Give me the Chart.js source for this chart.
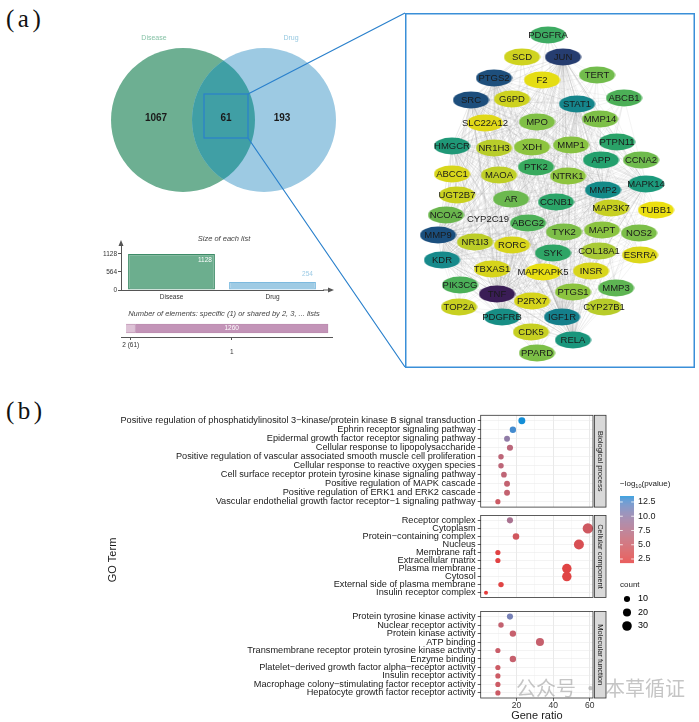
<!DOCTYPE html>
<html><head><meta charset="utf-8">
<script src="https://cdn.jsdelivr.net/npm/chart.js@4.4.1/dist/chart.umd.min.js"></script>
<style>
html,body{margin:0;padding:0;background:#fff;}
body{width:699px;height:722px;position:relative;overflow:hidden;font-family:"Liberation Sans",Arial,sans-serif;}
canvas{position:absolute;}
.lbl{position:absolute;font-family:"Liberation Serif","Times New Roman",serif;font-size:25px;line-height:25px;color:#111;letter-spacing:3.5px;}
.wm{position:absolute;font-family:"Noto Sans CJK SC",sans-serif;font-size:20px;line-height:22px;color:rgba(150,150,150,0.55);white-space:nowrap;}
</style></head><body>
<div class="lbl" style="left:6px;top:6px">(a)</div>
<div class="lbl" style="left:6px;top:398px">(b)</div>
<canvas id="venn" width="310" height="372" style="left:100px;top:0px"></canvas>
<canvas id="sizes" width="240" height="74" style="left:100px;top:228px"></canvas>
<canvas id="elems" width="240" height="50" style="left:100px;top:305px"></canvas>
<canvas id="net" width="290" height="355" style="left:405px;top:13px"></canvas>
<canvas id="go1" width="599" height="245" style="left:100px;top:400px"></canvas>
<canvas id="go2" width="510" height="97" style="left:100px;top:508px"></canvas>
<canvas id="go3" width="510" height="118" style="left:100px;top:604px"></canvas>
<div class="wm" style="left:516px;top:677px">公众号 · 本草循证</div>
<script>
// ---------------- DATA ----------------
const vennSets = ['Disease', 'Drug'];
const vennUnique = [1067, 193];
const vennShared = 61;

const listNames = ['Disease', 'Drug'];
const listSizes = [1128, 254];
const listTicks = [0, 564, 1128];

const elemNames = ['2 (61)', '1'];
const elemCounts = [61, 1260];

const geneNames = ['PDGFRA','SCD','JUN','TERT','PTGS2','F2','SRC','G6PD','STAT1','ABCB1','SLC22A12','MPO','MMP14','HMGCR','NR1H3','XDH','MMP1','PTPN11','APP','CCNA2','PTK2','ABCC1','MAOA','NTRK1','MMP2','MAPK14','UGT2B7','AR','CCNB1','MAP3K7','TUBB1','NCOA2','CYP2C19','ABCG2','TYK2','MAPT','NOS2','MMP9','NR1I3','RORC','SYK','COL18A1','ESRRA','KDR','TBXAS1','MAPKAPK5','INSR','PIK3CG','TNF','MMP3','PTGS1','P2RX7','TOP2A','CYP27B1','PDGFRB','IGF1R','CDK5','RELA','PPARD'];
// network layout (layout coordinates)
const geneLayoutX = [143,117,158,192,89,137,66,107,172,219,80,132,195,47,89,127,166,212,196,236,131,47,94,163,198,241,52,106,151,206,251,41,83,123,159,197,234,33,70,107,148,194,235,37,87,138,186,55,92,211,168,127,54,199,97,157,126,168,132];
const geneLayoutY = [22,44,44,62,65,67,87,86,91,85,110,109,106,133,135,134,132,129,147,147,154,161,162,163,177,171,182,186,189,195,197,202,206,210,219,217,220,222,229,232,240,238,242,247,256,259,258,272,281,275,279,288,294,294,304,304,319,327,340];
const hubGenes = ['TNF','JUN','SRC','PTGS2','MMP9','STAT1','MMP2','KDR','IGF1R','PDGFRB','RELA','MAPK14','HMGCR'];

const bpTerms = ['Positive regulation of phosphatidylinositol 3\u2212kinase/protein kinase B signal transduction','Ephrin receptor signaling pathway','Epidermal growth factor receptor signaling pathway','Cellular response to lipopolysaccharide','Positive regulation of vascular associated smooth muscle cell proliferation','Cellular response to reactive oxygen species','Cell surface receptor protein tyrosine kinase signaling pathway','Positive regulation of MAPK cascade','Positive regulation of ERK1 and ERK2 cascade','Vascular endothelial growth factor receptor\u22121 signaling pathway'];
const bpRatio = [22.9, 18.0, 14.8, 16.4, 11.5, 11.5, 13.1, 14.8, 14.8, 9.8];
const bpCount = [14, 11, 9, 10, 7, 7, 8, 9, 9, 6];
const bpLogP  = [13.5, 12.9, 10.0, 6.7, 6.5, 6.5, 6.3, 5.9, 5.9, 5.0];

const ccTerms = ['Receptor complex','Cytoplasm','Protein\u2212containing complex','Nucleus','Membrane raft','Extracellular matrix','Plasma membrane','Cytosol','External side of plasma membrane','Insulin receptor complex'];
const ccRatio = [16.4, 59.0, 19.7, 54.1, 9.8, 9.8, 47.5, 47.5, 11.5, 3.3];
const ccCount = [10, 36, 12, 33, 6, 6, 29, 29, 7, 2];
const ccLogP  = [8.3, 4.7, 4.5, 3.6, 2.4, 2.4, 2.5, 2.5, 2.5, 1.8];

const mfTerms = ['Protein tyrosine kinase activity','Nuclear receptor activity','Protein kinase activity','ATP binding','Transmembrane receptor protein tyrosine kinase activity','Enzyme binding','Platelet\u2212derived growth factor alpha\u2212receptor activity','Insulin receptor activity','Macrophage colony\u2212stimulating factor receptor activity','Hepatocyte growth factor receptor activity'];
const mfRatio = [16.4, 11.5, 18.0, 32.8, 9.8, 18.0, 9.8, 9.8, 9.8, 9.8];
const mfCount = [10, 7, 11, 20, 6, 11, 6, 6, 6, 6];
const mfLogP  = [11.2, 5.9, 5.6, 5.6, 5.3, 5.6, 5.0, 5.0, 5.0, 5.0];

const logPTicks = [12.5, 10.0, 7.5, 5.0, 2.5];
const countTicks = [10, 20, 30];

// ---------------- STYLES ----------------
const F = '"Liberation Sans", Arial, sans-serif';
const geneColors = ['#3dab62','#cfd320','#263d70','#72bc4c','#1e4f7c','#e5dd14','#1d4e7c','#cdd21f','#15858b','#4caf57','#e0d818','#80c046','#7dbf47','#1f9877','#b8cd2a','#8dc43f','#88c242','#2aa268','#23a06d','#6fbb4d','#38aa5e','#d8d61b','#bfcf27','#8ec43f','#138a88','#1c9a7c','#cad120','#6cb94f','#2ba468','#c7d022','#ebdf10','#6ab64d','rgba(0,0,0,0)','#4eb158','#7dbe48','#8ac340','#7bbe48','#1a4f7e','#bccd28','#d8d51b','#2ea566','#a9ca36','#dcd71a','#178a8b','#d6d41b','#e8df12','#d8d51b','#4bb058','#3a1d56','#5eb553','#8cc43f','#d6d41b','#c8d021','#b8cc2a','#178e85','#147f8b','#c6cf22','#1a967c','#7cbf47'];

Chart.defaults.font.family = F;
Chart.defaults.layout.autoPadding = false;

// Lab gradient (like ggplot scale_colour_gradient)
function s2l(c){c/=255;return c<=0.04045?c/12.92:Math.pow((c+0.055)/1.055,2.4);}
function l2s(c){c=c<=0.0031308?12.92*c:1.055*Math.pow(c,1/2.4)-0.055;return Math.round(Math.max(0,Math.min(1,c))*255);}
function rgb2lab(c){const r=s2l(c[0]),g=s2l(c[1]),b=s2l(c[2]);
  const X=(0.4124*r+0.3576*g+0.1805*b)/0.95047,Y=0.2126*r+0.7152*g+0.0722*b,Z=(0.0193*r+0.1192*g+0.9505*b)/1.08883;
  const f=t=>t>0.008856?Math.cbrt(t):(7.787*t+16/116);
  return [116*f(Y)-16,500*(f(X)-f(Y)),200*(f(Y)-f(Z))];}
function lab2rgb(c){const fy=(c[0]+16)/116,fx=fy+c[1]/500,fz=fy-c[2]/200;
  const fi=t=>t>0.206893?t*t*t:(t-16/116)/7.787;
  const X=fi(fx)*0.95047,Y=fi(fy),Z=fi(fz)*1.08883;
  return [l2s(3.2406*X-1.5372*Y-0.4986*Z),l2s(-0.9689*X+1.8758*Y+0.0415*Z),l2s(0.0557*X-0.2040*Y+1.0570*Z)];}
const LO=1.8, HI=13.55;
const labLo=rgb2lab([229,59,59]), labHi=rgb2lab([10,142,216]);
function colorFor(v){let t=(v-LO)/(HI-LO);t=Math.max(0,Math.min(1,t));
  const c=lab2rgb([0,1,2].map(k=>labLo[k]+(labHi[k]-labLo[k])*t));return `rgb(${c[0]},${c[1]},${c[2]})`;}
function sizeFor(n){return Math.sqrt(2.65+0.676*n);}

const base = {responsive:false, animation:false, events:[], plugins:{legend:{display:false},tooltip:{enabled:false}}};

// ---------------- VENN ----------------
const U = 72; // px per radius unit
const vennPlugin = {id:'vennP', afterDatasetsDraw(chart){
  const ctx=chart.ctx, pts=chart.getDatasetMeta(0).data;
  const a=pts[0], b=pts[1], r=U;
  ctx.save();
  ctx.beginPath(); ctx.arc(a.x,a.y,r,0,Math.PI*2); ctx.clip();
  ctx.beginPath(); ctx.arc(b.x,b.y,r,0,Math.PI*2); ctx.fillStyle='#409fa5'; ctx.fill();
  ctx.restore();
  ctx.save();
  ctx.textAlign='center'; ctx.textBaseline='middle';
  ctx.font='7px '+F;
  ctx.fillStyle='#86c2a6'; ctx.fillText(vennSets[0], a.x-29, a.y-82);
  ctx.fillStyle='#97c9e1'; ctx.fillText(vennSets[1], b.x+27, b.y-82);
  ctx.font='bold 10px '+F; ctx.fillStyle='#1a1a1a';
  ctx.fillText(String(vennUnique[0]), a.x-27, a.y-2);
  ctx.fillText(String(vennShared), (a.x+b.x)/2+2.5, a.y-2);
  ctx.fillText(String(vennUnique[1]), b.x+18, b.y-2);
  const cx=(a.x+b.x)/2+2.5, cy=a.y-4, h=22;
  ctx.strokeStyle='#2a80cc'; ctx.lineWidth=1.2;
  ctx.strokeRect(cx-h, cy-h, 2*h, 2*h);
  ctx.beginPath();
  ctx.moveTo(cx+h, cy-h); ctx.lineTo(chart.width-5, 13);
  ctx.moveTo(cx+h, cy+h); ctx.lineTo(chart.width-5, 367);
  ctx.stroke();
  ctx.restore();
}};
new Chart(document.getElementById('venn'), {
  type:'scatter',
  data:{datasets:[{data: vennSets.map((s,i)=>({x:(i===0?-1:1)*0.5625, y:0})),
    pointRadius: U, backgroundColor:['#6daf92','#9dcae3'], borderWidth:0, clip:false}]},
  options:Object.assign({}, base, {layout:{padding:0, autoPadding:false},
    scales:{x:{display:false,min:-123.5/U,max:(310-123.5)/U}, y:{display:false,min:-(372-120)/U,max:120/U}}}),
  plugins:[vennPlugin]
});

// ---------------- SIZE OF EACH LIST ----------------
const sizesPlugin = {id:'sizesP', afterDraw(chart){
  const ctx=chart.ctx, ca=chart.chartArea;
  ctx.save();
  ctx.strokeStyle='#555'; ctx.fillStyle='#555'; ctx.lineWidth=1;
  ctx.beginPath(); ctx.moveTo(ca.right, ca.bottom); ctx.lineTo(ca.right+7, ca.bottom); ctx.stroke();
  ctx.beginPath(); ctx.moveTo(ca.right+11, ca.bottom); ctx.lineTo(ca.right+5, ca.bottom-2.5); ctx.lineTo(ca.right+5, ca.bottom+2.5); ctx.fill();
  ctx.beginPath(); ctx.moveTo(ca.left, ca.top-3); ctx.lineTo(ca.left-2.5, ca.top+3); ctx.lineTo(ca.left+2.5, ca.top+3); ctx.fill();
  ctx.font='italic 7.5px '+F; ctx.fillStyle='#444'; ctx.textAlign='center'; ctx.textBaseline='middle';
  ctx.fillText('Size of each list', 124, 11);
  const bars=chart.getDatasetMeta(0).data;
  ctx.font='6.5px '+F; ctx.textAlign='right';
  ctx.fillStyle='#ffffff'; ctx.fillText(String(listSizes[0]), bars[0].x+bars[0].width/2-3, bars[0].y+6);
  ctx.fillStyle='#9dcbe5'; ctx.fillText(String(listSizes[1]), bars[1].x+bars[1].width/2-3, bars[1].y-8);
  ctx.restore();
}};
new Chart(document.getElementById('sizes'), {
  type:'bar',
  data:{labels:listNames, datasets:[{data:listSizes, backgroundColor:['#6cae8e','#9fcbe4'], borderColor:['#3e8c68','#7dbadf'], borderWidth:1.2, borderSkipped:false, barPercentage:0.86, categoryPercentage:1}]},
  options:Object.assign({}, base, {layout:{padding:{top:15,right:17,left:0,bottom:0}},
    scales:{
      x:{grid:{display:false,drawTicks:false}, border:{display:true,color:'#555',width:1},
         ticks:{font:{size:6.5},color:'#333',padding:3}, afterFit:s=>{s.height=12;}},
      y:{min:0,max:1470, afterBuildTicks:s=>{s.ticks=listTicks.map(v=>({value:v}));},
         grid:{drawOnChartArea:false,tickLength:3,color:'#555'}, border:{display:true,color:'#555',width:1},
         ticks:{font:{size:6.5},color:'#333',padding:1,callback:v=>String(v)}, afterFit:s=>{s.width=21;}}
    }}),
  plugins:[sizesPlugin]
});

// ---------------- NUMBER OF ELEMENTS ----------------
const elemPlugin = {id:'elemP', afterDraw(chart){
  const ctx=chart.ctx;
  ctx.save();
  ctx.font='italic 7.5px '+F; ctx.fillStyle='#444'; ctx.textAlign='center'; ctx.textBaseline='middle';
  ctx.fillText('Number of elements: specific (1) or shared by 2, 3, ... lists', 124, 9);
  const bar=chart.getDatasetMeta(1).data[0];
  ctx.font='6.5px '+F; ctx.fillStyle='#ffffff';
  ctx.fillText(String(elemCounts[1]), (bar.x+bar.base)/2, bar.y);
  ctx.restore();
}};
new Chart(document.getElementById('elems'), {
  type:'bar',
  data:{labels:['all'], datasets:[
    {data:[elemCounts[0]], backgroundColor:'#ddc2d6', borderColor:'#b98aad', borderWidth:0.8, barThickness:9},
    {data:[elemCounts[1]], backgroundColor:'#c394b8', borderColor:'#b98aad', borderWidth:0.8, barThickness:9}]},
  options:Object.assign({}, base, {indexAxis:'y', layout:{padding:{top:15,left:21,right:8,bottom:0}},
    scales:{
      x:{stacked:true, min:-33, max:1347,
         afterBuildTicks:s=>{s.ticks=[{value:elemCounts[0]/2},{value:elemCounts[0]+elemCounts[1]/2}];},
         grid:{drawOnChartArea:false,tickLength:3,color:'#555'}, border:{display:true,color:'#555',width:1},
         ticks:{font:{size:6.5},color:'#333',padding:1,maxRotation:0,autoSkip:false,
                callback:(v,i)=> i===0 ? elemNames[0] : ['', elemNames[1]]},
         afterFit:s=>{s.height=18;}},
      y:{stacked:true, display:false}
    }}),
  plugins:[elemPlugin]
});

// ---------------- NETWORK ----------------
function ellipseImg(color){
  const c=document.createElement('canvas'); c.width=37; c.height=18;
  const x=c.getContext('2d'); x.fillStyle=color; x.beginPath(); x.ellipse(18.5,9,18,8.5,0,0,Math.PI*2); x.fill();
  return c;
}
const nodeImgs = geneColors.map(ellipseImg);
const edgePts = [];
hubGenes.forEach(h=>{
  const hi=geneNames.indexOf(h);
  geneNames.forEach((g,i)=>{ if(i===hi) return;
    edgePts.push({x:geneLayoutX[i],y:geneLayoutY[i]},{x:geneLayoutX[hi],y:geneLayoutY[hi]},{x:null,y:null}); });
});
const netPlugin = {id:'netP', afterDatasetsDraw(chart){
  const ctx=chart.ctx, pts=chart.getDatasetMeta(1).data;
  ctx.save();
  ctx.font='9.5px '+F; ctx.fillStyle='#1a1a1a'; ctx.textAlign='center'; ctx.textBaseline='middle';
  pts.forEach((p,i)=>ctx.fillText(geneNames[i], p.x, p.y+0.5));
  ctx.strokeStyle='#3a8fd8'; ctx.lineWidth=1.5;
  ctx.strokeRect(0.75,0.75,chart.width-1.5,chart.height-1.5);
  ctx.restore();
}};
new Chart(document.getElementById('net'), {
  type:'scatter',
  data:{datasets:[
    {data:edgePts, showLine:true, spanGaps:false, borderColor:'rgba(140,140,140,0.2)', borderWidth:0.5, pointRadius:0, order:2},
    {data:geneNames.map((g,i)=>({x:geneLayoutX[i], y:geneLayoutY[i]})), pointStyle:ctx=>nodeImgs[ctx.dataIndex], pointRadius:8, order:1, clip:false}
  ]},
  options:Object.assign({}, base, {layout:{padding:0, autoPadding:false},
    scales:{x:{display:false,min:0,max:290}, y:{display:false,min:0,max:355,reverse:true}}}),
  plugins:[netPlugin]
});

// ---------------- GO DOT PLOT ----------------
function panelPlugin(strip){ return {id:'panel', afterDraw(chart){
  const ctx=chart.ctx, ca=chart.chartArea;
  ctx.save();
  ctx.strokeStyle='#333'; ctx.lineWidth=0.8;
  ctx.strokeRect(ca.left, ca.top, ca.right-ca.left, ca.bottom-ca.top);
  ctx.fillStyle='#d9d9d9';
  ctx.fillRect(ca.right+1.5, ca.top, 11.5, ca.bottom-ca.top);
  ctx.strokeRect(ca.right+1.5, ca.top, 11.5, ca.bottom-ca.top);
  ctx.translate(ca.right+7.25, (ca.top+ca.bottom)/2); ctx.rotate(Math.PI/2);
  ctx.font='7.5px '+F; ctx.fillStyle='#1a1a1a'; ctx.textAlign='center'; ctx.textBaseline='middle';
  ctx.fillText(strip, 0, 0);
  ctx.restore();
}};}
function goChart(id, terms, ratio, count, logp, cfg){
  return new Chart(document.getElementById(id), {
    type:'scatter',
    data:{datasets:[{data:terms.map((t,i)=>({x:ratio[i], y:i})),
      pointRadius:c=>sizeFor(count[c.dataIndex]), backgroundColor:c=>colorFor(logp[c.dataIndex]), borderWidth:0, clip:false}]},
    options:Object.assign({}, base, {layout:{padding:{top:cfg.pt,bottom:cfg.pb,right:cfg.pr,left:0}, autoPadding:false},
      scales:{
        x:{type:'linear', min:0.4, max:61.8,
           afterBuildTicks:s=>{s.ticks=[10,20,30,40,50,60].map(v=>({value:v}));},
           grid:{color:c=>(c.tick&&c.tick.value%20===0)?'#e9e9e9':'#f4f4f4', lineWidth:c=>(c.tick&&c.tick.value%20===0)?1:0.6,
                 drawTicks:cfg.showX, tickLength:3, tickWidth:0.8, tickColor:c=>(c.tick&&c.tick.value%20===0)?'#333':'rgba(0,0,0,0)'},
           border:{display:false},
           ticks:{display:cfg.showX, autoSkip:false, maxRotation:0, padding:0, font:{size:8.5}, color:'#333',
                  callback:v=> v%20===0 ? String(v) : ''},
           afterFit:s=>{s.height=cfg.xh;}},
        y:{type:'linear', reverse:true, min:-0.6, max:terms.length-0.4,
           afterBuildTicks:s=>{s.ticks=terms.map((t,i)=>({value:i}));},
           grid:{color:'#ebebeb', lineWidth:0.6, tickLength:3, tickWidth:0.8, tickColor:'#333'},
           border:{display:false},
           ticks:{autoSkip:false, padding:2, font:{size:9.2}, color:'#1a1a1a', callback:v=>terms[v]},
           afterFit:s=>{s.width=380.7;}}
      }}),
    plugins:[panelPlugin(cfg.strip)].concat(cfg.extra||[])
  });
}
const legendPlugin = {id:'goLegend', afterDraw(chart){
  const ctx=chart.ctx;
  ctx.save();
  const x0=520, top=96, bot=163, w=14;
  ctx.fillStyle='#1a1a1a'; ctx.textBaseline='middle'; ctx.textAlign='left';
  ctx.font='8px '+F;
  ctx.fillText('\u2212log', x0, 84);
  let xx = x0 + ctx.measureText('\u2212log').width;
  ctx.font='5.5px '+F; ctx.fillText('10', xx, 86.5);
  xx += ctx.measureText('10').width;
  ctx.font='8px '+F; ctx.fillText('(pvalue)', xx, 84);
  const vy=v=> top + (HI-v)/(HI-LO)*(bot-top);
  for(let y=top; y<bot; y+=0.5){ const v=HI-(y-top)/(bot-top)*(HI-LO); ctx.fillStyle=colorFor(v); ctx.fillRect(x0, y, w, 0.6); }
  ctx.strokeStyle='#ffffff'; ctx.lineWidth=0.8;
  ctx.font='9px '+F; 
  logPTicks.forEach(v=>{ const y=vy(v);
    ctx.beginPath(); ctx.moveTo(x0,y); ctx.lineTo(x0+2.8,y); ctx.moveTo(x0+w-2.8,y); ctx.lineTo(x0+w,y); ctx.stroke();
    ctx.fillStyle='#1a1a1a'; ctx.fillText(v.toFixed(1), x0+w+4, y); });
  ctx.font='8px '+F; ctx.fillStyle='#1a1a1a'; ctx.fillText('count', x0, 185);
  countTicks.forEach((n,i)=>{ const y=199+i*13.5;
    ctx.beginPath(); ctx.arc(x0+7, y, sizeFor(n), 0, Math.PI*2); ctx.fillStyle='#000'; ctx.fill();
    ctx.font='9px '+F; ctx.fillText(String(n), x0+w+4, y); });
  ctx.restore();
}};
const goTitlePlugin = {id:'goTitle', afterDraw(chart){
  const ctx=chart.ctx; ctx.save();
  ctx.translate(13, 52); ctx.rotate(-Math.PI/2);
  ctx.font='11px '+F; ctx.fillStyle='#1a1a1a'; ctx.textAlign='center'; ctx.textBaseline='middle';
  ctx.fillText('GO Term', 0, 0); ctx.restore();
}};
const xTitlePlugin = {id:'xTitle', afterDraw(chart){
  const ctx=chart.ctx, ca=chart.chartArea; ctx.save();
  ctx.font='11px '+F; ctx.fillStyle='#1a1a1a'; ctx.textAlign='center'; ctx.textBaseline='middle';
  ctx.fillText('Gene ratio', (ca.left+ca.right)/2, 112); ctx.restore();
}};
goChart('go1', bpTerms, bpRatio, bpCount, bpLogP, {pt:15.3, pb:137.9, pr:106, showX:false, xh:0, strip:'Biological process', extra:[legendPlugin]});
goChart('go2', ccTerms, ccRatio, ccCount, ccLogP, {pt:2.6, pb:2.9, pr:17, showX:false, xh:0, strip:'Cellular component', extra:[goTitlePlugin]});
goChart('go3', mfTerms, mfRatio, mfCount, mfLogP, {pt:3, pb:0, pr:17, showX:true, xh:24, strip:'Molecular function', extra:[xTitlePlugin]});
</script>
</body></html>
